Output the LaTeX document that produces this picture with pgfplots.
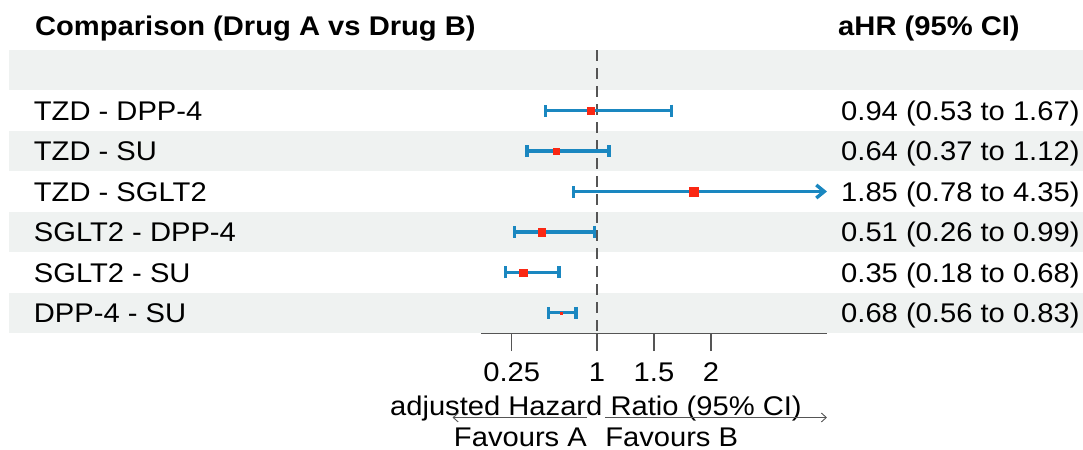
\documentclass[border=0pt]{standalone}
\usepackage{fontspec}
\setmainfont{Liberation Sans}[FakeStretch=1.08]
\usepackage{pgfplots}
\pgfplotsset{compat=1.18}
\usetikzlibrary{arrows.meta}
\definecolor{ciblue}{RGB}{26,135,192}
\definecolor{mkred}{RGB}{250,40,20}
\definecolor{band}{RGB}{239,242,241}
\definecolor{axgray}{RGB}{85,85,85}
\newcommand\tf{\fontsize{27bp}{32bp}\selectfont}
\begin{document}
\begin{tikzpicture}[font=\tf]
\begin{axis}[
  name=ax, scale only axis, width=346bp, height=283bp,
  xmin=-0.02, xmax=3.02, ymin=-6.5, ymax=0.5,
  clip=false,
  axis y line=none, axis x line*=bottom,
  x axis line style={-, draw=axgray, line width=1.2bp},
  xtick={0.25,1,1.5,2}, xticklabels={0.25,1,1.5,2},
  ytick=\empty,
  tick align=outside, major tick length=18bp,
  xtick style={draw=axgray, line width=1.2bp},
  xticklabel style={font=\tf, anchor=base, inner sep=0pt, yshift=-30bp},
  ci/.style={ciblue, line width=3.4bp, line cap=butt},
  est/.style={mkred, only marks, mark=square*, mark options={fill=mkred, draw=mkred, line width=0.1bp}},
]
% background bands
\fill[band] (axis cs:-4.17,0.5) rectangle (axis cs:5.5,-0.5);
\fill[band] (axis cs:-4.17,-1.5) rectangle (axis cs:5.5,-2.5);
\fill[band] (axis cs:-4.17,-3.5) rectangle (axis cs:5.5,-4.5);
\fill[band] (axis cs:-4.17,-5.5) rectangle (axis cs:5.5,-6.5);
% reference line
\addplot[axgray, line width=2bp, dash pattern=on 11bp off 7bp] coordinates {(1,0.5) (1,-6.5)};
% confidence intervals
\addplot[ci, {Bar[width=12bp]}-{Bar[width=12bp]}] coordinates {(0.53,-1) (1.67,-1)};
\addplot[ci, {Bar[width=12bp]}-{Bar[width=12bp]}] coordinates {(0.37,-2) (1.12,-2)};
\addplot[ci, {Bar[width=12bp]}-{Straight Barb[length=8bp,width=13bp]}] coordinates {(0.78,-3) (3.02,-3)};
\addplot[ci, {Bar[width=12bp]}-{Bar[width=12bp]}] coordinates {(0.26,-4) (0.99,-4)};
\addplot[ci, {Bar[width=12bp]}-{Bar[width=12bp]}] coordinates {(0.18,-5) (0.68,-5)};
\addplot[ci, {Bar[width=12bp]}-{Bar[width=12bp]}] coordinates {(0.56,-6) (0.83,-6)};
% point estimates
\addplot[est, mark size=3.3bp] coordinates {(0.94,-1)};
\addplot[est, mark size=3.0bp] coordinates {(0.64,-2)};
\addplot[est, mark size=4.7bp] coordinates {(1.85,-3)};
\addplot[est, mark size=3.7bp] coordinates {(0.51,-4)};
\addplot[est, mark size=3.8bp] coordinates {(0.35,-5)};
\addplot[est, mark size=0.9bp] coordinates {(0.68,-6)};
% header
\node[anchor=base west, inner sep=0pt, font=\tf\bfseries] at (axis cs:-3.94,0.866) {Comparison (Drug A vs Drug B)};
\node[anchor=base west, inner sep=0pt, font=\tf\bfseries] at (axis cs:3.117,0.866) {aHR (95\% CI)};
% row labels
\node[anchor=base west, inner sep=0pt] at (axis cs:-3.95,-1.239) {TZD - DPP-4};
\node[anchor=base west, inner sep=0pt] at (axis cs:-3.95,-2.239) {TZD - SU};
\node[anchor=base west, inner sep=0pt] at (axis cs:-3.95,-3.239) {TZD - SGLT2};
\node[anchor=base west, inner sep=0pt] at (axis cs:-3.95,-4.239) {SGLT2 - DPP-4};
\node[anchor=base west, inner sep=0pt] at (axis cs:-3.95,-5.239) {SGLT2 - SU};
\node[anchor=base west, inner sep=0pt] at (axis cs:-3.95,-6.239) {DPP-4 - SU};
% estimates text
\node[anchor=base west, inner sep=0pt] at (axis cs:3.143,-1.239) {0.94 (0.53 to 1.67)};
\node[anchor=base west, inner sep=0pt] at (axis cs:3.143,-2.239) {0.64 (0.37 to 1.12)};
\node[anchor=base west, inner sep=0pt] at (axis cs:3.143,-3.239) {1.85 (0.78 to 4.35)};
\node[anchor=base west, inner sep=0pt] at (axis cs:3.143,-4.239) {0.51 (0.26 to 0.99)};
\node[anchor=base west, inner sep=0pt] at (axis cs:3.143,-5.239) {0.35 (0.18 to 0.68)};
\node[anchor=base west, inner sep=0pt] at (axis cs:3.143,-6.239) {0.68 (0.56 to 0.83)};
% x label and direction arrows
\node[anchor=base, inner sep=0pt] at (axis cs:0.99,-8.54) {adjusted Hazard Ratio (95\% CI)};
\draw[-{Straight Barb[length=5bp,width=9bp]}, axgray, line width=0.9bp] (axis cs:0.912,-8.59) -- (axis cs:-0.27,-8.59);
\draw[-{Straight Barb[length=5bp,width=9bp]}, axgray, line width=0.9bp] (axis cs:1.07,-8.59) -- (axis cs:3.02,-8.59);
\node[anchor=base east, inner sep=0pt] at (axis cs:0.912,-9.30) {Favours A};
\node[anchor=base west, inner sep=0pt] at (axis cs:1.07,-9.30) {Favours B};
\coordinate (BL) at (axis cs:-0.02,-6.5);
\end{axis}
\pgfresetboundingbox
\path[use as bounding box] ([shift={(-481bp,-117bp)}]BL) rectangle ++(1083bp,450bp);
\end{tikzpicture}
\end{document}
